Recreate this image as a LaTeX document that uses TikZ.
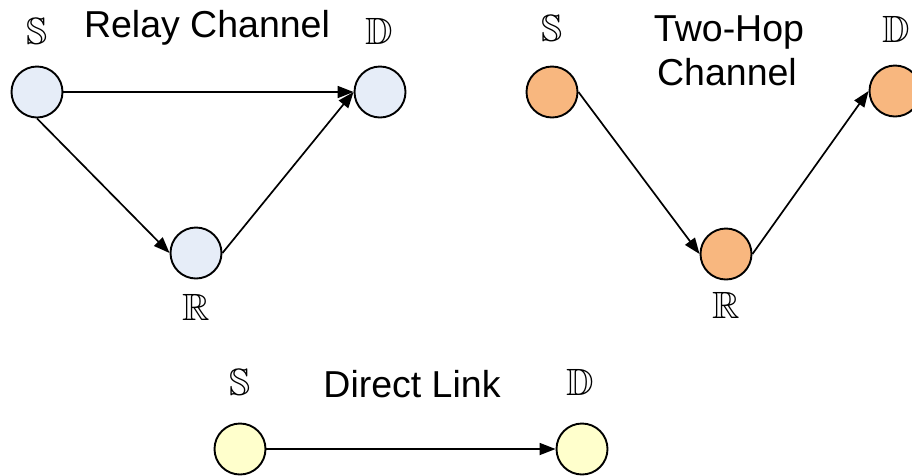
\documentclass[tikz,border=0pt]{standalone}
\usepackage{amssymb}
\usepackage{fontspec}
\setmainfont{Liberation Sans}
\usetikzlibrary{arrows.meta}

\definecolor{relayfill}{HTML}{E6EDF8}
\definecolor{hopfill}{HTML}{F8B77F}
\definecolor{directfill}{HTML}{FFFFCC}

\tikzset{
  station/.style={circle, draw=black, line width=1.9pt, minimum size=51pt, inner sep=0pt},
  link/.style={line width=1.7pt, -{Triangle[length=16pt,width=12pt]}},
  title/.style={font=\fontsize{37.5}{42}\selectfont, anchor=base, inner sep=0pt},
  tag/.style={font=\fontsize{38}{42}\selectfont, inner sep=0pt},
}

\begin{document}
\begin{tikzpicture}[x=1pt, y=-1pt]
  \useasboundingbox (0,0) rectangle (912,475);
  \clip (0,0) rectangle (912,475);

  % relay channel
  \node[station, fill=relayfill] (rs) at (37,92) {};
  \node[station, fill=relayfill] (rd) at (380,92) {};
  \node[station, fill=relayfill] (rr) at (196,253) {};
  \node[tag] (rsl) at (37,31) {$\mathbb{S}$};
  \node[tag] (rdl) at (379,31) {$\mathbb{D}$};
  \node[tag] (rrl) at (196,307) {$\mathbb{R}$};
  \node[title] (rt) at (207,37) {Relay Channel};
  \draw[link] (rs.east) -- (rd.west);
  \draw[link] (rs.south) -- (rr.west);
  \draw[link] (rr.east) -- (rd.west);

  % two-hop channel
  \node[station, fill=hopfill] (hs) at (552,92) {};
  \node[station, fill=hopfill] (hd) at (895,91) {};
  \node[station, fill=hopfill] (hr) at (726,254) {};
  \node[tag] (hsl) at (552,28) {$\mathbb{S}$};
  \node[tag] (hdl) at (896,29) {$\mathbb{D}$};
  \node[tag] (hrl) at (726,305) {$\mathbb{R}$};
  \node[title] (hta) at (729,41) {Two-Hop};
  \node[title] (htb) at (727,85) {Channel};
  \draw[link] (hs.east) -- (hr.west);
  \draw[link] (hr.east) -- (hd.west);

  % direct link
  \node[station, fill=directfill] (ds) at (240,449) {};
  \node[station, fill=directfill] (dd) at (582,449) {};
  \node[tag] (dsl) at (240,382) {$\mathbb{S}$};
  \node[tag] (ddl) at (580,382) {$\mathbb{D}$};
  \node[title] (dt) at (412,397) {Direct Link};
  \draw[link] (ds.east) -- (dd.west);
\end{tikzpicture}
\end{document}
